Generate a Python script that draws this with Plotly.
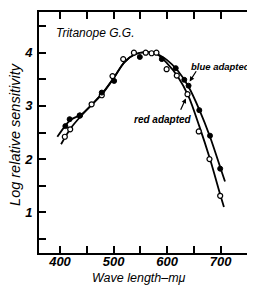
import plotly.graph_objects as go

# Measured points
red_wl = [409, 419, 437, 459, 478, 498, 518, 538, 560, 571, 580, 599, 618, 638, 659, 679, 699]
red_val = [2.42, 2.56, 2.82, 3.03, 3.20, 3.56, 3.88, 4.00, 4.00, 3.99, 4.00, 3.69, 3.57, 3.22, 2.52, 2.00, 1.31]
blue_wl = [410, 418, 437, 478, 501, 549, 590, 616, 632, 640, 660, 680, 699]
blue_val = [2.62, 2.75, 2.82, 3.25, 3.47, 3.92, 3.88, 3.71, 3.49, 3.38, 2.92, 2.44, 1.82]

# Fitted curves
blue_curve_wl = [395, 410, 420, 440, 460, 480, 500, 520, 540, 560, 580, 600, 620, 640, 660, 680, 700, 708]
blue_curve_val = [2.42, 2.63, 2.74, 2.84, 3.03, 3.25, 3.52, 3.82, 3.97, 4.01, 3.98, 3.86, 3.66, 3.36, 2.93, 2.42, 1.82, 1.58]
red_curve_wl = [402, 420, 440, 460, 480, 500, 520, 540, 560, 580, 600, 620, 640, 660, 680, 700, 706]
red_curve_val = [2.28, 2.58, 2.82, 3.03, 3.24, 3.52, 3.82, 3.97, 4.01, 3.98, 3.80, 3.55, 3.18, 2.62, 2.00, 1.30, 1.10]

x_ticks = [400, 500, 600, 700]
y_ticks = [1, 2, 3, 4]

FONT = "Liberation Sans"

fig = go.Figure()
fig.add_trace(go.Scatter(x=blue_curve_wl, y=blue_curve_val, mode="lines",
                         line=dict(color="black", width=1.8, shape="spline", smoothing=0.8),
                         hoverinfo="skip"))
fig.add_trace(go.Scatter(x=red_curve_wl, y=red_curve_val, mode="lines",
                         line=dict(color="black", width=1.8, shape="spline", smoothing=0.8),
                         hoverinfo="skip"))
fig.add_trace(go.Scatter(x=red_wl, y=red_val, mode="markers",
                         marker=dict(symbol="circle", size=5, color="white",
                                     line=dict(color="black", width=1.2))))
fig.add_trace(go.Scatter(x=blue_wl, y=blue_val, mode="markers",
                         marker=dict(symbol="circle", size=5, color="black",
                                     line=dict(color="black", width=1))))
# helper trace for right-side ticks
fig.add_trace(go.Scatter(x=[None], y=[None], yaxis="y2", showlegend=False, hoverinfo="skip"))

tickfont = dict(family=FONT, size=13, color="black", style="italic", weight="bold")

# page body has an 8px margin, so the figure is 8px smaller than the window
fig.update_layout(
    width=247, height=278,
    margin=dict(l=31, r=0, t=4, b=33, autoexpand=False),
    paper_bgcolor="white", plot_bgcolor="white",
    showlegend=False,
    xaxis=dict(range=[360.8, 764], tickvals=x_ticks, ticktext=[str(v) for v in x_ticks],
               ticks="inside", ticklen=7, tickwidth=1.5, tickcolor="black",
               minor=dict(tickvals=[450, 550, 650, 750], ticks="inside", ticklen=7,
                          tickwidth=1.5, tickcolor="black"),
               showline=True, linecolor="black", linewidth=2, mirror="ticks",
               showgrid=False, zeroline=False, tickfont=tickfont, automargin=False,
               ticklabelstandoff=-5),
    yaxis=dict(range=[0.235, 4.765], tickvals=y_ticks, ticktext=[str(v) for v in y_ticks],
               ticks="inside", ticklen=7, tickwidth=1.5, tickcolor="black",
               minor=dict(tickvals=[0.5, 1.5, 2.5, 3.5, 4.5], ticks="inside", ticklen=7,
                          tickwidth=1.5, tickcolor="black"),
               showline=True, linecolor="black", linewidth=2,
               showgrid=False, zeroline=False, tickfont=tickfont, automargin=False,
               ticklabelstandoff=2),
    yaxis2=dict(overlaying="y", side="right", matches="y", showline=False,
                tickvals=y_ticks + [0.5, 1.5, 2.5, 3.5, 4.5], ticks="inside", ticklen=7,
                tickwidth=1.5, tickcolor="black", showticklabels=False,
                showgrid=False, zeroline=False, automargin=False),
)

fig.add_annotation(text="Tritanope G.G.", x=388, y=4.37, xref="x", yref="y",
                   xanchor="left", yanchor="middle", showarrow=False,
                   font=dict(family=FONT, size=12, color="black", style="italic"))
fig.add_annotation(text="blue adapted", x=641, y=3.75, xref="x", yref="y",
                   xanchor="left", yanchor="middle", showarrow=False,
                   font=dict(family=FONT, size=9.5, color="black", style="italic", weight="bold"))
fig.add_annotation(text="", x=642, y=3.46, ax=656, ay=3.68, xref="x", yref="y",
                   axref="x", ayref="y", showarrow=True, arrowhead=2, arrowsize=0.8,
                   arrowwidth=1.2, arrowcolor="black")
fig.add_annotation(text="red adapted", x=534, y=2.75, xref="x", yref="y",
                   xanchor="left", yanchor="middle", showarrow=False,
                   font=dict(family=FONT, size=10, color="black", style="italic", weight="bold"))
fig.add_annotation(text="", x=635, y=3.14, ax=624, ay=2.90, xref="x", yref="y",
                   axref="x", ayref="y", showarrow=True, arrowhead=2, arrowsize=0.8,
                   arrowwidth=1.2, arrowcolor="black")
fig.add_annotation(text="Log relative sensitivity", x=-0.111, y=0.49, xref="paper", yref="paper",
                   textangle=-90, showarrow=False, xanchor="center", yanchor="middle",
                   font=dict(family=FONT, size=14.5, color="black", style="italic"))
fig.add_annotation(text="Wave length–mμ", x=0.463, y=-0.103, xref="paper", yref="paper",
                   showarrow=False, xanchor="center", yanchor="middle",
                   font=dict(family=FONT, size=12.5, color="black", style="italic"))

fig.write_html("out.html")
